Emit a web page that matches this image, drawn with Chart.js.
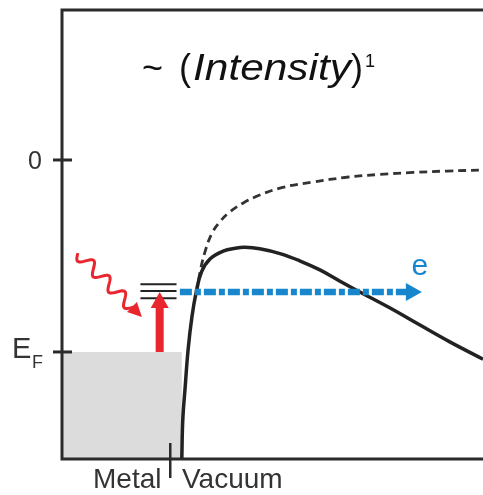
<!DOCTYPE html>
<html lang="en">
  <head>
    <meta charset="UTF-8" />
    <title>Photoemission barrier</title>
    <style>
      body {
        margin: 0;
        background-color: white;
      }
      #wrap {
        width: 483px;
        height: 495px;
      }
    </style>
  </head>
  <body>
    <script src="https://cdn.jsdelivr.net/npm/chart.js@4"></script>
    <div id="wrap"><canvas id="chart"></canvas></div>
    <script>
      // energy (eV-ish) vs distance from surface
      const xMin = -2.25, xMax = 6.5;
      const yMin = -6.23, yMax = 3.125;

      // surface barrier with applied field (solid)
      const barrierX = [0.24, 0.26, 0.31, 0.37, 0.45, 0.54, 0.65, 0.83, 1.10, 1.35, 1.55, 1.86, 2.28, 2.69, 3.11, 3.52, 3.94, 4.56, 5.19, 5.81, 6.50];
      const barrierY = [-6.23, -5.42, -4.73, -3.96, -3.27, -2.75, -2.33, -2.06, -1.90, -1.84, -1.82, -1.85, -1.95, -2.10, -2.29, -2.52, -2.75, -3.08, -3.44, -3.79, -4.15];

      // image potential without field (dashed)
      const imageX = [0.55, 0.62, 0.72, 0.86, 1.03, 1.24, 1.51, 1.86, 2.34, 2.96, 3.67, 4.36, 5.04, 5.75, 6.50];
      const imageY = [-2.77, -2.33, -1.92, -1.54, -1.29, -1.08, -0.90, -0.73, -0.57, -0.46, -0.36, -0.30, -0.26, -0.23, -0.21];

      // filled states of the metal, up to E_F
      const fermiLevel = -4;
      const metalEdgeX = [xMin, 0.37, 0.31, 0.26, 0.24];
      const metalEdgeY = [fermiLevel, fermiLevel, -4.73, -5.42, yMin];

      const tickValues = [0, fermiLevel];
      const tickLabels = ["0", "E"];
      const tickSubs = ["", "F"];

      // excited levels and emitted electron
      const levelY = [-2.59, -2.73, -2.88];
      const levelX = [-0.62, 0.13];
      const electronY = -2.75;
      const electronX = [0.2, 4.9];
      const electronTip = 5.23;
      const photonStart = [-1.92, -1.94];
      const photonEnd = [-0.59, -3.27];
      const excitationX = -0.22;

      const pts = (xs, ys) => xs.map((x, i) => ({ x: x, y: ys[i] }));
      const ink = "#2b2b2b";
      const red = "rgb(233,38,45)";
      const blue = "rgb(24,134,204)";
      const font = "'Liberation Sans', Arial, sans-serif";

      const datasets = [
        {
          data: pts(metalEdgeX, metalEdgeY),
          borderWidth: 0,
          pointRadius: 0,
          tension: 0,
          fill: { target: "start", above: "#dcdcdc", below: "#dcdcdc" },
          backgroundColor: "#dcdcdc",
          order: 5,
        },
        {
          data: pts(imageX, imageY),
          borderColor: "#333",
          borderWidth: 2.8,
          borderDash: [8, 5],
          pointRadius: 0,
          tension: 0.4,
          order: 3,
        },
        {
          data: pts(barrierX, barrierY),
          borderColor: "#222",
          borderWidth: 3.5,
          pointRadius: 0,
          tension: 0.4,
          order: 2,
        },
        {
          data: pts(electronX, [electronY, electronY]),
          borderColor: blue,
          borderWidth: 6.5,
          borderDash: [12, 3, 6, 3],
          pointRadius: 0,
          order: 1,
        },
      ];
      levelY.forEach((y) => {
        datasets.push({
          data: pts(levelX, [y, y]),
          borderColor: "#222",
          borderWidth: 2,
          pointRadius: 0,
          order: 4,
        });
      });

      function arrowHead(ctx, tx, ty, ang, len, half, color) {
        ctx.save();
        ctx.translate(tx, ty);
        ctx.rotate(ang);
        ctx.fillStyle = color;
        ctx.beginPath();
        ctx.moveTo(0, 0);
        ctx.lineTo(-len, -half);
        ctx.lineTo(-len, half);
        ctx.closePath();
        ctx.fill();
        ctx.restore();
      }

      const decor = {
        id: "decor",
        afterDatasetsDraw(chart) {
          const ctx = chart.ctx;
          const xs = chart.scales.x, ys = chart.scales.y;
          const a = chart.chartArea;
          const px = (v) => xs.getPixelForValue(v);
          const py = (v) => ys.getPixelForValue(v);

          // frame
          ctx.save();
          ctx.strokeStyle = ink;
          ctx.lineWidth = 3;
          ctx.beginPath();
          ctx.moveTo(a.right + 2, a.top);
          ctx.lineTo(a.left, a.top);
          ctx.lineTo(a.left, a.bottom);
          ctx.lineTo(a.right + 2, a.bottom);
          ctx.stroke();
          tickValues.forEach((v) => {
            ctx.beginPath();
            ctx.moveTo(a.left - 9, py(v));
            ctx.lineTo(a.left + 10, py(v));
            ctx.stroke();
          });
          // metal / vacuum divider
          ctx.lineWidth = 2.5;
          ctx.beginPath();
          ctx.moveTo(px(0), a.bottom - 16);
          ctx.lineTo(px(0), a.bottom + 19);
          ctx.stroke();

          // blue arrow head
          arrowHead(ctx, px(electronTip), py(electronY), 0, 16, 9, blue);

          // red excitation arrow
          const ex = px(excitationX);
          const ey0 = py(fermiLevel), ey1 = py(electronY);
          ctx.fillStyle = red;
          ctx.fillRect(ex - 4, ey1 + 12, 8, ey0 - ey1 - 12);
          arrowHead(ctx, ex, ey1, -Math.PI / 2, 16, 9, red);

          // wavy photon
          const sx = px(photonStart[0]), sy = py(photonStart[1]);
          const tx = px(photonEnd[0]), ty = py(photonEnd[1]);
          const ang = Math.atan2(ty - sy, tx - sx);
          const len = Math.hypot(tx - sx, ty - sy) - 12;
          ctx.save();
          ctx.translate(sx, sy);
          ctx.rotate(ang);
          ctx.strokeStyle = red;
          ctx.lineWidth = 3;
          ctx.lineJoin = "round";
          ctx.beginPath();
          for (let t = 0; t <= len; t += 1) {
            const w = 6 * Math.sin((t / 22) * 2 * Math.PI);
            if (t === 0) ctx.moveTo(t, w);
            else ctx.lineTo(t, w);
          }
          ctx.stroke();
          ctx.restore();
          arrowHead(ctx, tx, ty, ang, 14, 7, red);

          // text
          ctx.fillStyle = "#333";
          ctx.textBaseline = "alphabetic";
          ctx.textAlign = "left";
          ctx.font = "25px " + font;
          ctx.fillText(tickLabels[0], 28, py(tickValues[0]) + 9);
          ctx.font = "29px " + font;
          ctx.fillText(tickLabels[1], 12, py(tickValues[1]) + 6);
          ctx.font = "18px " + font;
          ctx.fillText(tickSubs[1], 32, py(tickValues[1]) + 16);

          ctx.font = "28px " + font;
          ctx.fillText("Metal", 93, 488);
          ctx.fillText("Vacuum", 182, 488);

          ctx.fillStyle = blue;
          ctx.font = "30px " + font;
          ctx.textAlign = "center";
          ctx.fillText("e", px(electronTip) - 2, py(electronY) - 17);

          // title ~ (Intensity)^1
          ctx.fillStyle = "#111";
          ctx.textAlign = "left";
          const fitText = (s, f, x, y, w) => {
            ctx.font = f;
            const m = ctx.measureText(s).width;
            ctx.save();
            ctx.translate(x, y);
            ctx.scale(w / m, 1);
            ctx.fillText(s, 0, 0);
            ctx.restore();
          };
          fitText("~", "36px " + font, 142, 80, 21);
          fitText("(", "36px " + font, 179, 80, 12);
          fitText("Intensity", "italic 36px " + font, 193, 80, 158);
          fitText(")", "36px " + font, 351, 80, 12);
          fitText("1", "18px " + font, 365, 67, 10);
          ctx.restore();
        },
      };

      new Chart(document.getElementById("chart"), {
        type: "line",
        data: { datasets: datasets },
        options: {
          animation: false,
          responsive: true,
          maintainAspectRatio: false,
          layout: { padding: { left: 62, top: 10, right: 0, bottom: 36 } },
          plugins: { legend: { display: false }, tooltip: { enabled: false } },
          scales: {
            x: { type: "linear", min: xMin, max: xMax, display: false },
            y: { type: "linear", min: yMin, max: yMax, display: false },
          },
        },
        plugins: [decor],
      });
    </script>
  </body>
</html>
